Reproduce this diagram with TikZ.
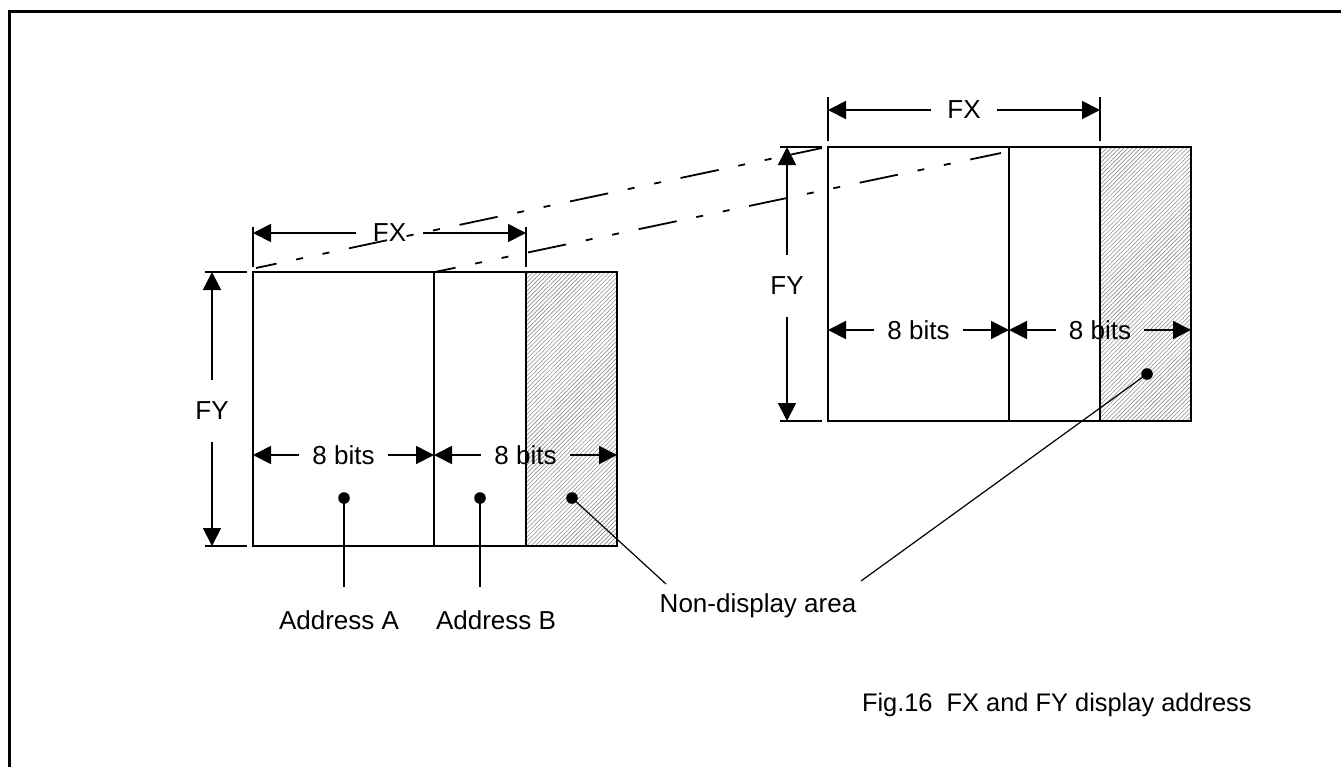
\documentclass[tikz,border=0pt]{standalone}
\usepackage{fontspec}
\setmainfont{Liberation Sans}
\usetikzlibrary{arrows.meta,patterns.meta}
\tikzset{
  box/.style={draw, line width=1.1pt},
  frameline/.style={line width=1.5pt},
  extline/.style={line width=1pt},
  hatch/.style={pattern={Lines[angle=45,distance=1.5pt,line width=0.3pt]}, pattern color=black!45},
  dimarrow/.style={line width=0.9pt, -{Triangle[length=9pt,width=9pt]}},
  lbl/.style={inner sep=0pt, outer sep=0pt},
  fxlbl/.style={inner xsep=8pt, inner ysep=2pt},
  fylbl/.style={inner xsep=2pt, inner ysep=11pt},
  bitlbl/.style={inner xsep=6.5pt, inner ysep=2pt},
  dashdot/.style={line width=0.9pt, dash pattern=on 19.5pt off 10pt on 3.5pt off 10pt on 3.5pt off 10pt, dash phase=9pt},
  leader/.style={line width=0.9pt},
  thinleader/.style={line width=0.6pt},
  dotmark/.style={fill=black}
}
\begin{document}
\begin{tikzpicture}[x=0.5pt,y=-0.5pt,font=\fontsize{13}{15}\selectfont]
\useasboundingbox (0,0) rectangle (1341,767);
% frame
\draw[frameline] (9.5,767) -- (9.5,11) -- (1341,11);

% ---------- left block ----------
\path[hatch] (526,272) rectangle (617,546);
\draw[box] (253,272) rectangle (617,546);
\draw[box] (434,272) -- (434,546);
\draw[box] (526,272) -- (526,546);
% extension lines
\draw[extline] (253,227) -- (253,267);
\draw[extline] (526,227) -- (526,267);
\draw[extline] (205,272) -- (247,272);
\draw[extline] (205,546) -- (247,546);
% FX left
\node[fxlbl] (fxL) at (389.5,233) {FX};
\coordinate (fxLa) at (253,233);
\coordinate (fxLb) at (526,233);
\draw[dimarrow] (fxL) -- (fxLa);
\draw[dimarrow] (fxL) -- (fxLb);
% FY left
\node[fylbl] (fyL) at (212,411) {FY};
\coordinate (fyLa) at (212,272);
\coordinate (fyLb) at (212,546);
\draw[dimarrow] (fyL) -- (fyLa);
\draw[dimarrow] (fyL) -- (fyLb);
% 8 bits left
\node[bitlbl] (bL1) at (343.5,455) {8 bits};
\coordinate (bL1a) at (253,455);
\coordinate (bL1b) at (434,455);
\draw[dimarrow] (bL1) -- (bL1a);
\draw[dimarrow] (bL1) -- (bL1b);
\node[bitlbl] (bL2) at (525.5,455) {8 bits};
\coordinate (bL2a) at (434,455);
\coordinate (bL2b) at (617,455);
\draw[dimarrow] (bL2) -- (bL2a);
\draw[dimarrow] (bL2) -- (bL2b);

% ---------- right block ----------
\path[hatch] (1100,147) rectangle (1191,421);
\draw[box] (828,147) rectangle (1191,421);
\draw[box] (1009,147) -- (1009,421);
\draw[box] (1100,147) -- (1100,421);
\draw[extline] (828,97) -- (828,141);
\draw[extline] (1100,97) -- (1100,141);
\draw[extline] (780,147) -- (822,147);
\draw[extline] (780,421) -- (822,421);
% FX right
\node[fxlbl] (fxR) at (964,110) {FX};
\coordinate (fxRa) at (828,110);
\coordinate (fxRb) at (1100,110);
\draw[dimarrow] (fxR) -- (fxRa);
\draw[dimarrow] (fxR) -- (fxRb);
% FY right
\node[fylbl] (fyR) at (787,286) {FY};
\coordinate (fyRa) at (787,147);
\coordinate (fyRb) at (787,421);
\draw[dimarrow] (fyR) -- (fyRa);
\draw[dimarrow] (fyR) -- (fyRb);
% 8 bits right
\node[bitlbl] (bR1) at (918.5,330) {8 bits};
\coordinate (bR1a) at (828,330);
\coordinate (bR1b) at (1009,330);
\draw[dimarrow] (bR1) -- (bR1a);
\draw[dimarrow] (bR1) -- (bR1b);
\node[bitlbl] (bR2) at (1100,330) {8 bits};
\coordinate (bR2a) at (1009,330);
\coordinate (bR2b) at (1191,330);
\draw[dimarrow] (bR2) -- (bR2a);
\draw[dimarrow] (bR2) -- (bR2b);

% ---------- projection lines ----------
\coordinate (pA1) at (256,268);
\coordinate (pA2) at (822,148);
\coordinate (pB1) at (435,272);
\coordinate (pB2) at (1001,153);
\draw[dashdot] (pA1) -- (pA2);
\draw[dashdot] (pB1) -- (pB2);

% ---------- dots and leaders ----------
\coordinate (dA) at (344,498);
\coordinate (dB) at (480,498);
\coordinate (dC) at (572,498);
\coordinate (dD) at (1147,374);
\fill[dotmark] (dA) circle (2.9pt);
\fill[dotmark] (dB) circle (2.9pt);
\fill[dotmark] (dC) circle (2.9pt);
\fill[dotmark] (dD) circle (2.9pt);
\coordinate (eA) at (344,587);
\coordinate (eB) at (480,587);
\coordinate (eC) at (666,584);
\coordinate (eD) at (861,581);
\draw[leader] (dA) -- (eA);
\draw[leader] (dB) -- (eB);
\draw[thinleader] (dC) -- (eC);
\draw[thinleader] (dD) -- (eD);

% ---------- labels ----------
\node[lbl] (addrA) at (339,620) {Address A};
\node[lbl] (addrB) at (496,620) {Address B};
\node[lbl] (nda) at (758,606) {Non-display area};
\node[lbl, anchor=west, font=\fontsize{12.7}{15}\selectfont] (cap) at (862,705) {Fig.16\ \ FX and FY display address};
\end{tikzpicture}
\end{document}
